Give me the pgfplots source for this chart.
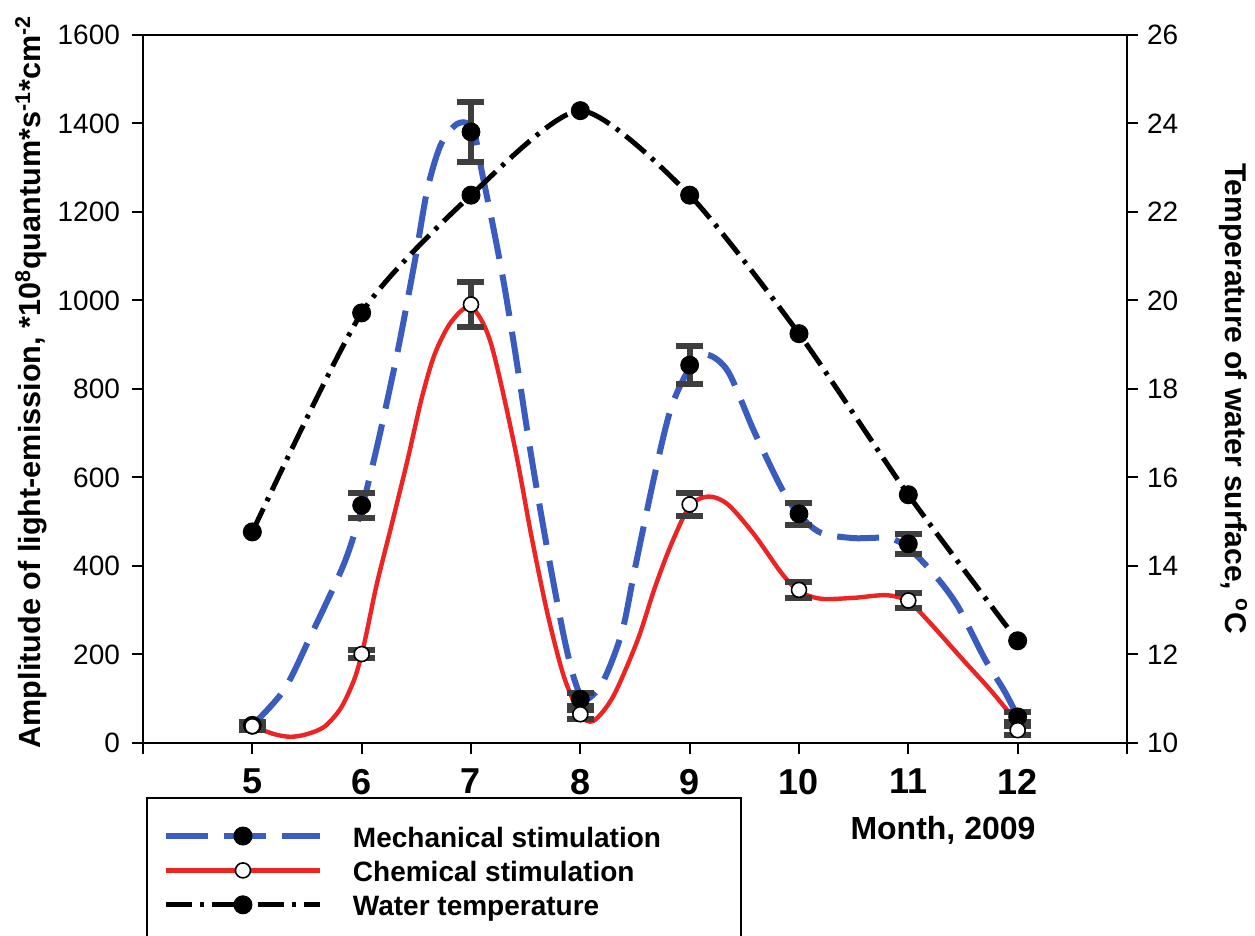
\documentclass[border=0pt]{standalone}
\usepackage{fontspec}
\setmainfont{Liberation Sans}
\usepackage{pgfplots}
\usepackage{pgfplotstable}
\pgfplotsset{compat=1.18}
\definecolor{mblue}{RGB}{58,92,190}
\definecolor{mred}{RGB}{236,36,36}
\definecolor{ebar}{RGB}{62,62,62}

\pgfplotstableread{
x y e
5 40 8
6 537 28
7 1381 68
8 99 15
9 854 43
10 518 25
11 450 22
12 59 12
}\mech
\pgfplotstableread{
x y e
5 38 8
6 201 10
7 991 50
8 65 10
9 539 27
10 346 18
11 322 17
12 29 10
}\chem
\pgfplotstableread{
x y
5 14.77
6 19.72
7 22.38
8 24.29
9 22.38
10 19.25
11 15.61
12 12.31
}\temp
\pgfplotstableread{
x y
5 40
5.29 120
5.53 240
5.84 406
6 530
6.15 680
6.33 886
6.49 1094
6.6 1250
6.72 1350
6.85 1395
6.95 1402
7.03 1380
7.1 1290
7.2 1170
7.3 1040
7.4 890
7.55 650
7.7 435
7.85 240
7.95 140
8.04 98
8.2 135
8.38 250
8.5 395
8.68 606
8.83 757
9 847
9.15 878
9.35 840
9.59 704
9.84 576
10 516
10.2 475
10.5 463
10.82 463
11 441
11.24 380
11.45 310
11.7 190
11.88 117
12 60
}\mechfit
\pgfplotstableread{
x y
5 38
5.2 20
5.35 14
5.5 20
5.66 37
5.81 79
5.93 142
6 200
6.05 255
6.14 361
6.27 489
6.42 640
6.55 780
6.67 880
6.82 952
7 985
7.18 905
7.4 669
7.55 471
7.7 292
7.85 150
8 65
8.12 50
8.3 105
8.52 230
8.68 350
8.83 448
9 535
9.17 557
9.35 539
9.59 471
9.84 384
10 343
10.2 326
10.5 328
10.8 334
11 320
11.2 271
11.5 188
11.75 120
12 45
}\chemfit

\begin{document}
\begin{tikzpicture}
\path[use as bounding box] (-71.5pt,-96.5pt) rectangle (556pt,371.5pt);
\begin{axis}[
  at={(0,0)}, anchor=south west,
  scale only axis, width=492pt, height=354pt,
  xmin=4, xmax=13, ymin=0, ymax=1600,
  xtick={4,...,13}, xticklabels={,5,6,7,8,9,10,11,12,},
  ytick={0,200,...,1600},
  tick pos=left, tick align=outside,
  major tick length=5.5pt,
  axis line style={line width=1pt},
  every tick/.style={line width=1pt, black},
  /pgf/number format/assume math mode=true,
  /pgf/number format/1000 sep={},
  yticklabel style={font=\fontsize{14}{16}\selectfont, xshift=-2.5pt},
  xticklabel style={font=\bfseries\fontsize{18}{20}\selectfont, yshift=-4pt},
  ylabel={Amplitude of light-emission, *10\textsuperscript{8}quantum*s\textsuperscript{-1}*cm\textsuperscript{-2}},
  every axis y label/.style={at={(axis description cs:-0.0904,0.51)}, rotate=90, anchor=south, font=\bfseries\fontsize{15.3}{18}\selectfont},
  xlabel={Month, 2009},
  every axis x label/.style={at={(axis description cs:0.813,-0.123)}, anchor=center, font=\bfseries\fontsize{16}{18}\selectfont},
  clip=false,
]
\addplot[mblue, line width=3pt, dash pattern=on 21pt off 8pt, smooth, forget plot] table[x=x,y=y] {\mechfit};
\addplot[mred, line width=2.2pt, smooth, forget plot] table[x=x,y=y] {\chemfit};
\addplot[only marks, mark=*, mark size=4.5pt, black, forget plot,
  error bars/.cd, y dir=both, y explicit,
  error bar style={line width=3pt, ebar},
  error mark options={rotate=90, line width=3pt, ebar, mark size=6.75pt}]
  table[x=x,y=y,y error=e] {\mech};
\addplot[only marks, mark=*, mark size=3.75pt, draw=black, fill=white, mark options={line width=0.8pt}, forget plot,
  error bars/.cd, y dir=both, y explicit,
  error bar style={line width=3pt, ebar},
  error mark options={rotate=90, line width=3pt, ebar, mark size=6.75pt}]
  table[x=x,y=y,y error=e] {\chem};
\end{axis}
\begin{axis}[
  at={(0,0)}, anchor=south west,
  scale only axis, width=492pt, height=354pt,
  xmin=4, xmax=13, ymin=10, ymax=26,
  ytick={10,12,...,26},
  axis x line=none, axis y line*=right,
  tick align=outside,
  major tick length=5.5pt,
  axis line style={line width=1pt},
  every tick/.style={line width=1pt, black},
  /pgf/number format/assume math mode=true,
  yticklabel style={font=\fontsize{14}{16}\selectfont, xshift=1pt},
  ylabel={Temperature of water surface, \textsuperscript{o}C},
  every axis y label/.style={at={(axis description cs:1.0864,0.486)}, rotate=-90, anchor=south, font=\bfseries\fontsize{15}{18}\selectfont},
  clip=false,
  legend image code/.code={\draw[mark repeat=2,mark phase=2,#1] plot coordinates {(0pt,0pt) (38.5pt,0pt) (77pt,0pt)};},
  legend cell align=left,
  legend style={at={(axis description cs:0.003,-0.0763)}, anchor=north west,
    draw=black, line width=1pt, fill=white, inner xsep=8pt, inner ysep=10.4pt,
    column sep=13pt, row sep=0pt,
    font=\bfseries\fontsize{14}{17}\selectfont,
    nodes={inner xsep=2pt, inner ysep=1.6pt, text height=12.5pt, text depth=1.5pt}},
]
\addplot[black, line width=2.5pt, dash pattern=on 13pt off 4pt on 2pt off 4pt, smooth, tension=0.4,
  mark=*, mark size=4.5pt, mark options={solid, line width=0.5pt}, forget plot] table[x=x,y=y] {\temp};
\addlegendimage{mblue, line width=3pt, dash pattern=on 21pt off 8pt, mark=*, mark size=4.5pt, mark options={solid, black, line width=0.5pt}}
\addlegendentry{Mechanical stimulation\hspace*{30pt}}
\addlegendimage{mred, line width=2.2pt, mark=*, mark size=3.75pt, mark options={solid, draw=black, fill=white, line width=0.8pt}}
\addlegendentry{Chemical stimulation}
\addlegendimage{black, line width=2.5pt, dash pattern=on 13pt off 4pt on 2pt off 4pt, mark=*, mark size=4.5pt, mark options={solid, line width=0.5pt}}
\addlegendentry{Water temperature}
\end{axis}
\end{tikzpicture}
\end{document}
